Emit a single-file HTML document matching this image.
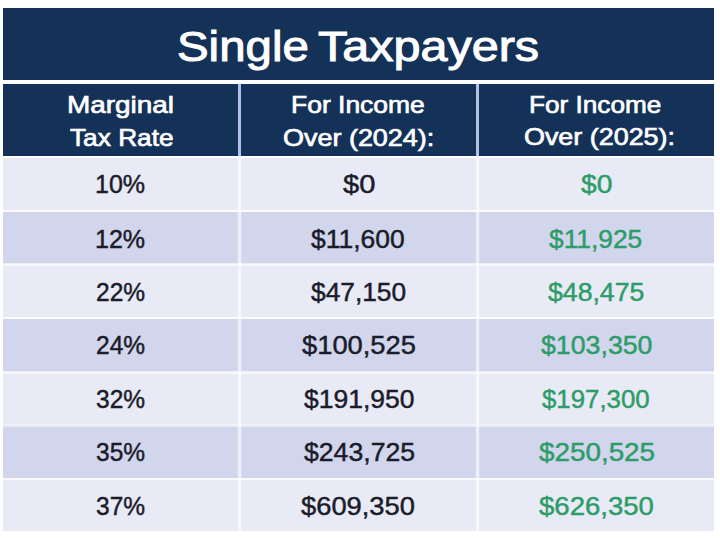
<!DOCTYPE html>
<html><head><meta charset="utf-8">
<style>
*{margin:0;padding:0;box-sizing:border-box}
html,body{width:720px;height:541px;background:#fff;overflow:hidden}
body{position:relative;font-family:"Liberation Sans",sans-serif}
.a{position:absolute}
.t{position:absolute;white-space:nowrap;transform-origin:0 0}
.title,.hdr{color:#fff;font-weight:normal;-webkit-text-stroke:1px #fff}
.hdr{-webkit-text-stroke:0.7px #fff}
.dk,.gr{-webkit-text-stroke:0.45px currentColor}
.dk{color:#1b1c2a}
.gr{color:#2e9c69}
</style></head><body>
<div class="a" style="left:3px;top:8px;width:711px;height:72px;background:#143158"></div>
<div class="a" style="left:3px;top:84px;width:711px;height:72px;background:#143158"></div>
<div class="a" style="left:238px;top:84px;width:3px;height:72px;background:#b4c3e5"></div>
<div class="a" style="left:476px;top:84px;width:3px;height:72px;background:#b4c3e5"></div>
<div class="a" style="left:3px;top:158px;width:711px;height:52px;background:#e8ebf5"></div>
<div class="a" style="left:3px;top:210px;width:711px;height:54px;background:#d1d6ed"></div>
<div class="a" style="left:3px;top:264px;width:711px;height:54px;background:#e8ebf5"></div>
<div class="a" style="left:3px;top:318px;width:711px;height:54px;background:#d1d6ed"></div>
<div class="a" style="left:3px;top:372px;width:711px;height:53px;background:#e8ebf5"></div>
<div class="a" style="left:3px;top:425px;width:711px;height:54px;background:#d1d6ed"></div>
<div class="a" style="left:3px;top:479px;width:711px;height:52px;background:#e8ebf5"></div>
<div class="a" style="left:3px;top:156px;width:711px;height:2px;background:rgba(255,255,255,1.0)"></div>
<div class="a" style="left:3px;top:210px;width:711px;height:2px;background:rgba(255,255,255,0.9)"></div>
<div class="a" style="left:3px;top:263px;width:711px;height:3px;background:rgba(255,255,255,0.6)"></div>
<div class="a" style="left:3px;top:317px;width:711px;height:2px;background:rgba(255,255,255,0.9)"></div>
<div class="a" style="left:3px;top:371px;width:711px;height:3px;background:rgba(255,255,255,0.6)"></div>
<div class="a" style="left:3px;top:424px;width:711px;height:3px;background:rgba(255,255,255,0.5)"></div>
<div class="a" style="left:3px;top:478px;width:711px;height:2px;background:rgba(255,255,255,0.8)"></div>
<div class="a" style="left:237px;top:158px;width:5px;height:373px;background:linear-gradient(to right,rgba(255,255,255,0.1) 0,rgba(255,255,255,0.25) 20%,rgba(255,255,255,0.68) 40%,rgba(255,255,255,0.68) 70%,rgba(255,255,255,0.2) 85%,rgba(255,255,255,0) 100%)"></div>
<div class="a" style="left:475px;top:158px;width:5px;height:373px;background:linear-gradient(to right,rgba(255,255,255,0.1) 0,rgba(255,255,255,0.25) 20%,rgba(255,255,255,0.68) 40%,rgba(255,255,255,0.68) 70%,rgba(255,255,255,0.2) 85%,rgba(255,255,255,0) 100%)"></div>
<div id="t1" class="t title" style="left:177.05px;top:25.50px;font-size:42.5px;line-height:42.5px;transform:scaleX(1.1154)">Single</div>
<div id="t2" class="t title" style="left:318.12px;top:25.60px;font-size:42.5px;line-height:42.5px;transform:scaleX(1.1412)">Taxpayers</div>
<div id="h11" class="t hdr" style="left:67.34px;top:92.70px;font-size:24.5px;line-height:24.5px;transform:scaleX(1.1395)">Marginal</div>
<div id="h12" class="t hdr" style="left:69.75px;top:125.50px;font-size:24.5px;line-height:24.5px;transform:scaleX(1.0712)">Tax Rate</div>
<div id="h21" class="t hdr" style="left:291.10px;top:92.70px;font-size:24.5px;line-height:24.5px;transform:scaleX(1.0802)">For Income</div>
<div id="h22" class="t hdr" style="left:282.87px;top:125.70px;font-size:24.5px;line-height:24.5px;transform:scaleX(1.1002)">Over (2024):</div>
<div id="h31" class="t hdr" style="left:529.36px;top:92.70px;font-size:24.5px;line-height:24.5px;transform:scaleX(1.0678)">For Income</div>
<div id="h32" class="t hdr" style="left:523.86px;top:125.20px;font-size:24.5px;line-height:24.5px;transform:scaleX(1.0978)">Over (2025):</div>
<div id="d00" class="t dk" style="left:95.10px;top:172.20px;font-size:25px;line-height:25px;transform:scaleX(1.0022)">10%</div>
<div id="d01" class="t dk" style="left:343.39px;top:172.20px;font-size:25px;line-height:25px;transform:scaleX(1.1649)">$0</div>
<div id="d02" class="t gr" style="left:580.81px;top:172.20px;font-size:25px;line-height:25px;transform:scaleX(1.1308)">$0</div>
<div id="d10" class="t dk" style="left:95.11px;top:226.50px;font-size:25px;line-height:25px;transform:scaleX(1.0017)">12%</div>
<div id="d11" class="t dk" style="left:311.30px;top:226.50px;font-size:25px;line-height:25px;transform:scaleX(1.0588)">$11,600</div>
<div id="d12" class="t gr" style="left:549.47px;top:226.50px;font-size:25px;line-height:25px;transform:scaleX(1.0529)">$11,925</div>
<div id="d20" class="t dk" style="left:96.11px;top:279.60px;font-size:25px;line-height:25px;transform:scaleX(0.9810)">22%</div>
<div id="d21" class="t dk" style="left:311.15px;top:279.60px;font-size:25px;line-height:25px;transform:scaleX(1.0526)">$47,150</div>
<div id="d22" class="t gr" style="left:547.60px;top:279.60px;font-size:25px;line-height:25px;transform:scaleX(1.0660)">$48,475</div>
<div id="d30" class="t dk" style="left:96.11px;top:332.70px;font-size:25px;line-height:25px;transform:scaleX(0.9808)">24%</div>
<div id="d31" class="t dk" style="left:301.83px;top:332.70px;font-size:25px;line-height:25px;transform:scaleX(1.0926)">$100,525</div>
<div id="d32" class="t gr" style="left:540.99px;top:332.70px;font-size:25px;line-height:25px;transform:scaleX(1.0690)">$103,350</div>
<div id="d40" class="t dk" style="left:96.11px;top:387.40px;font-size:25px;line-height:25px;transform:scaleX(0.9808)">32%</div>
<div id="d41" class="t dk" style="left:303.94px;top:387.40px;font-size:25px;line-height:25px;transform:scaleX(1.0592)">$191,950</div>
<div id="d42" class="t gr" style="left:541.89px;top:387.40px;font-size:25px;line-height:25px;transform:scaleX(1.0318)">$197,300</div>
<div id="d50" class="t dk" style="left:96.11px;top:440.20px;font-size:25px;line-height:25px;transform:scaleX(0.9808)">35%</div>
<div id="d51" class="t dk" style="left:303.53px;top:440.20px;font-size:25px;line-height:25px;transform:scaleX(1.0653)">$243,725</div>
<div id="d52" class="t gr" style="left:538.53px;top:440.20px;font-size:25px;line-height:25px;transform:scaleX(1.1130)">$250,525</div>
<div id="d60" class="t dk" style="left:96.11px;top:494.40px;font-size:25px;line-height:25px;transform:scaleX(0.9808)">37%</div>
<div id="d61" class="t dk" style="left:300.85px;top:494.40px;font-size:25px;line-height:25px;transform:scaleX(1.0929)">$609,350</div>
<div id="d62" class="t gr" style="left:539.25px;top:494.40px;font-size:25px;line-height:25px;transform:scaleX(1.1016)">$626,350</div>
</body></html>
